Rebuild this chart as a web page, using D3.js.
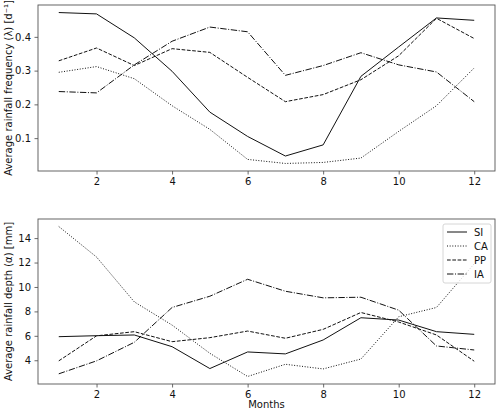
<!DOCTYPE html>
<html>
<head>
<meta charset="utf-8">
<script src="https://cdn.jsdelivr.net/npm/d3@7"></script>
<style>
body { margin: 0; background: #fff; }
svg { font-family: "DejaVu Sans", sans-serif; }
</style>
</head>
<body>
<svg id="chart" width="500" height="413"></svg>
<script>
var months = [1, 2, 3, 4, 5, 6, 7, 8, 9, 10, 11, 12];
var seriesNames = ['SI', 'CA', 'PP', 'IA'];

// frequency (lambda), d^-1
var freqSI = [0.472, 0.468, 0.397, 0.298, 0.177, 0.105, 0.047, 0.080, 0.283, 0.370, 0.456, 0.449];
var freqCA = [0.295, 0.312, 0.276, 0.196, 0.126, 0.037, 0.025, 0.028, 0.041, 0.120, 0.196, 0.308];
var freqPP = [0.329, 0.367, 0.315, 0.365, 0.354, 0.280, 0.208, 0.229, 0.273, 0.344, 0.455, 0.395];
var freqIA = [0.238, 0.234, 0.317, 0.387, 0.429, 0.415, 0.286, 0.315, 0.353, 0.317, 0.296, 0.208];

// depth (alpha), mm
var depthSI = [5.93, 6.01, 6.07, 5.11, 3.32, 4.68, 4.52, 5.66, 7.48, 7.29, 6.34, 6.12];
var depthCA = [14.95, 12.45, 8.78, 6.88, 4.57, 2.67, 3.67, 3.29, 4.10, 7.56, 8.32, 11.9];
var depthPP = [3.95, 6.00, 6.34, 5.52, 5.85, 6.39, 5.80, 6.53, 7.91, 7.13, 6.07, 3.92];
var depthIA = [2.89, 3.95, 5.47, 8.32, 9.24, 10.63, 9.65, 9.11, 9.16, 8.10, 5.17, 4.84];

var xTicks = [2, 4, 6, 8, 10, 12];
var freqTicks = [0.1, 0.2, 0.3, 0.4];
var depthTicks = [4, 6, 8, 10, 12, 14];

// matplotlib default dash styles at lw=1
var dashes = { SI: null, CA: '1,1.65', PP: '3.7,1.6', IA: '6.4,1.6,1,1.6' };

var svg = d3.select('#chart');
var left = 38, right = 495;

function padded(ext) {
	var m = (ext[1] - ext[0]) * 0.05;
	return [ext[0] - m, ext[1] + m];
}

var x = d3.scaleLinear().domain(padded([1, 12])).range([left, right]);

function panel(top, bottom, data, yTicks, yFmt, yLabel, showLegend) {
	var all = [].concat.apply([], data);
	var y = d3.scaleLinear().domain(padded(d3.extent(all))).range([bottom, top]);
	var g = svg.append('g');

	var line = d3.line()
		.x(function(d, i) { return x(months[i]); })
		.y(function(d) { return y(d); });

	data.forEach(function(s, k) {
		g.append('path')
			.datum(s)
			.attr('d', line)
			.attr('fill', 'none')
			.attr('stroke', '#111')
			.attr('stroke-width', 1)
			.attr('stroke-dasharray', dashes[seriesNames[k]]);
	});

	var xAxis = g.append('g')
		.attr('transform', 'translate(0,' + bottom + ')')
		.call(d3.axisBottom(x).tickValues(xTicks).tickSize(3.5).tickPadding(3.5));
	var yAxis = g.append('g')
		.attr('transform', 'translate(' + left + ',0)')
		.call(d3.axisLeft(y).tickValues(yTicks).tickFormat(yFmt).tickSize(3.5).tickPadding(3.5));
	[xAxis, yAxis].forEach(function(a) {
		a.select('.domain').remove();
		a.selectAll('.tick line').attr('stroke', '#444').attr('stroke-width', 0.8);
		a.selectAll('.tick text').attr('font-size', 10).attr('fill', '#111')
			.attr('font-family', '"DejaVu Sans", sans-serif');
	});

	g.append('rect')
		.attr('x', left).attr('y', top)
		.attr('width', right - left).attr('height', bottom - top)
		.attr('fill', 'none').attr('stroke', '#555').attr('stroke-width', 0.9);

	g.append('text')
		.attr('transform', 'translate(12,' + ((top + bottom) / 2) + ') rotate(-90)')
		.attr('text-anchor', 'middle')
		.attr('font-size', 10)
		.attr('fill', '#111')
		.text(yLabel);

	if (showLegend) {
		var lg = g.append('g');
		lg.append('rect')
			.attr('x', 443).attr('y', 224).attr('width', 48).attr('height', 59).attr('rx', 2)
			.attr('fill', '#fff').attr('fill-opacity', 0.8)
			.attr('stroke', '#ccc').attr('stroke-width', 0.8);
		seriesNames.forEach(function(n, k) {
			var yy = 232 + k * 14;
			lg.append('line')
				.attr('x1', 447).attr('x2', 467).attr('y1', yy).attr('y2', yy)
				.attr('stroke', '#111').attr('stroke-width', 1)
				.attr('stroke-dasharray', dashes[n]);
			lg.append('text')
				.attr('x', 474).attr('y', yy).attr('dy', '0.35em')
				.attr('font-size', 10)
				.attr('fill', '#111')
				.text(n);
		});
	}
	return g;
}

panel(5, 171, [freqSI, freqCA, freqPP, freqIA], freqTicks, d3.format('.1f'),
	'Average rainfall frequency (\u03bb) [d\u207b\u00b9]', false);
panel(219, 384, [depthSI, depthCA, depthPP, depthIA], depthTicks, d3.format('d'),
	'Average rainfall depth (\u03b1) [mm]', true);

svg.append('text')
	.attr('x', (left + right) / 2).attr('y', 408)
	.attr('text-anchor', 'middle')
	.attr('font-size', 10)
	.attr('fill', '#111')
	.text('Months');
</script>
</body>
</html>
